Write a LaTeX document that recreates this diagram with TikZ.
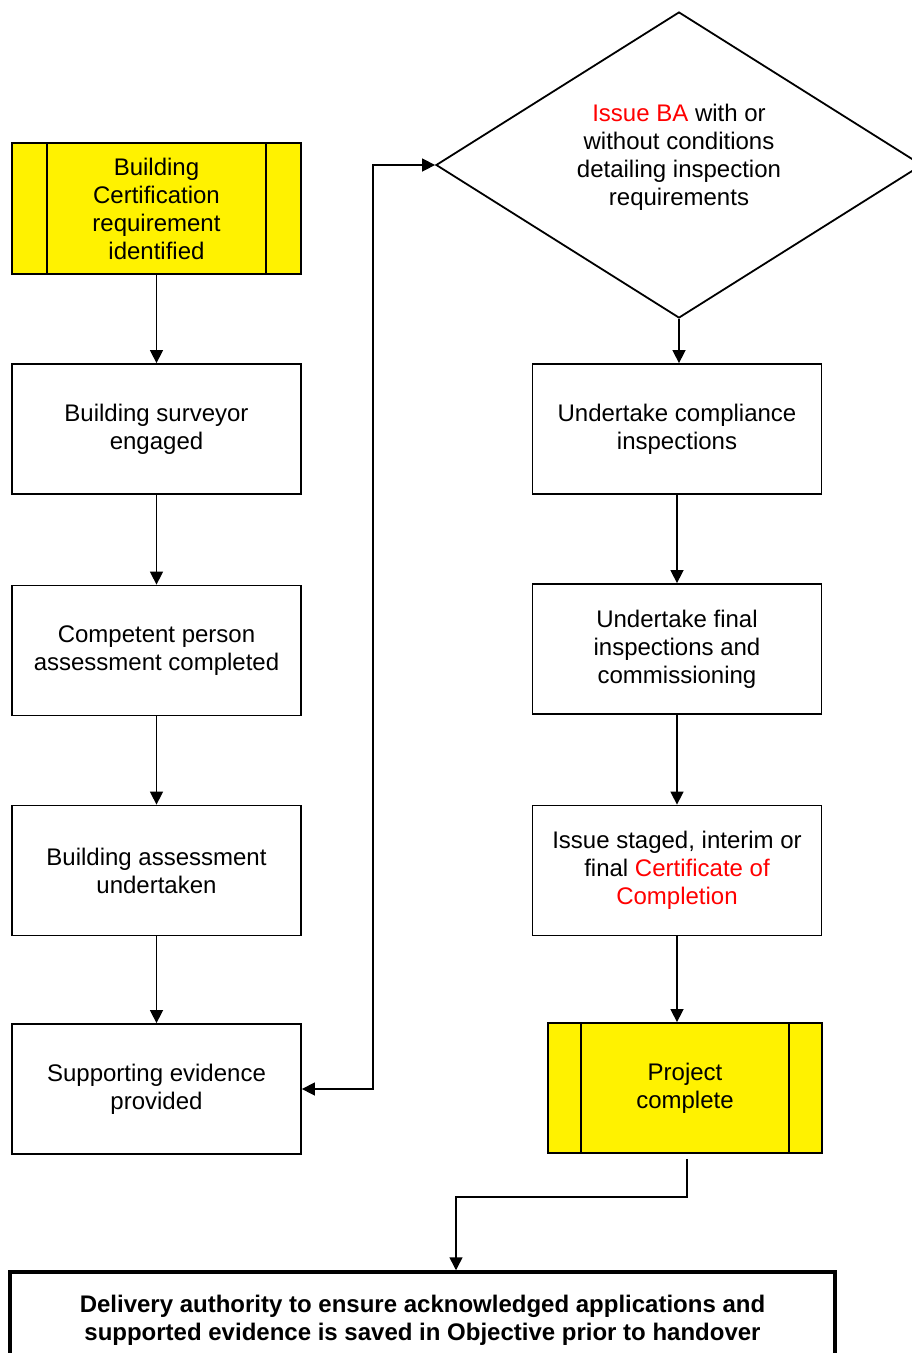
\documentclass[tikz,border=0pt]{standalone}
\usepackage{fontspec}
\setmainfont{Liberation Sans}
\usetikzlibrary{arrows.meta,shapes.geometric}

\begin{document}
\begin{tikzpicture}[x=1pt, y=-1pt,
    box/.style={rectangle, draw=black, line width=1.8pt, fill=white, inner sep=0pt,
      minimum width=289pt, minimum height=130pt, align=center,
      font=\fontsize{24}{28}\selectfont},
    termbox/.style={box, fill=yellow},
    decision/.style={diamond, draw=black, line width=1.8pt, fill=white, inner sep=0pt,
      minimum width=486pt, minimum height=306pt},
    flow/.style={line width=1.5pt, -{Triangle[length=13pt,width=13pt]}},
    twoway/.style={line width=1.5pt, {Triangle[length=13pt,width=13pt]}-{Triangle[length=13pt,width=13pt]}}]
    \useasboundingbox (0,0) rectangle (912,1353);
    \clip (0,0) rectangle (912,1353);

    % left column
    \node[termbox, minimum height=131pt] (cert) at (156.5, 208.5) {Building\\Certification\\requirement\\identified};
    \node[box] (surv) at (156.5, 429) {Building surveyor\\engaged};
    \node[box] (comp) at (156.5, 650.5) {Competent person\\assessment completed};
    \node[box] (assess) at (156.5, 870.5) {Building assessment\\undertaken};
    \node[box] (evid) at (156.5, 1089) {Supporting evidence\\provided};

    % right column
    \node[decision] (issue) at (679, 165) {};
    \node[align=center, font=\fontsize{24}{28}\selectfont] (issuetxt) at (679, 157)
        {\textcolor{red}{Issue BA} with or\\without conditions\\detailing inspection\\requirements};
    \node[box] (insp) at (677, 429) {Undertake compliance\\inspections};
    \node[box] (final) at (677, 649) {Undertake final\\inspections and\\commissioning};
    \node[box] (cc) at (677, 870.5) {Issue staged, interim or\\final \textcolor{red}{Certificate of}\\\textcolor{red}{Completion}};
    \node[termbox, minimum width=274pt] (done) at (685, 1088) {Project\\complete};

    \node[box, minimum width=825pt, minimum height=96pt, line width=3.5pt,
      font=\bfseries\fontsize{24}{28}\selectfont] (deliver) at (422.5, 1320)
        {Delivery authority to ensure acknowledged applications and\\supported evidence is saved in Objective prior to handover};

    % side bars
    \draw[line width=1.8pt] ([xshift=36pt]cert.north west) -- ([xshift=36pt]cert.south west);
    \draw[line width=1.8pt] ([xshift=-36pt]cert.north east) -- ([xshift=-36pt]cert.south east);
    \draw[line width=1.8pt] ([xshift=34pt]done.north west) -- ([xshift=34pt]done.south west);
    \draw[line width=1.8pt] ([xshift=-34pt]done.north east) -- ([xshift=-34pt]done.south east);

    % connectors
    \draw[flow] (cert) -- (surv);
    \draw[flow] (surv) -- (comp);
    \draw[flow] (comp) -- (assess);
    \draw[flow] (assess) -- (evid);
    \draw[twoway] (evid.east) -- ++(71, 0) |- (issue.west);
    \draw[flow] (issue.south) -- (issue.south |- insp.north);
    \draw[flow] (insp) -- (final);
    \draw[flow] (final) -- (cc);
    \draw[flow] (cc.south) -- (cc.south |- done.north);
    \coordinate (turn) at (456, 1197);
    \draw[flow] ([xshift=2pt, yshift=-5pt]done.south) |- (turn) -- (turn |- deliver.north);
\end{tikzpicture}
\end{document}
